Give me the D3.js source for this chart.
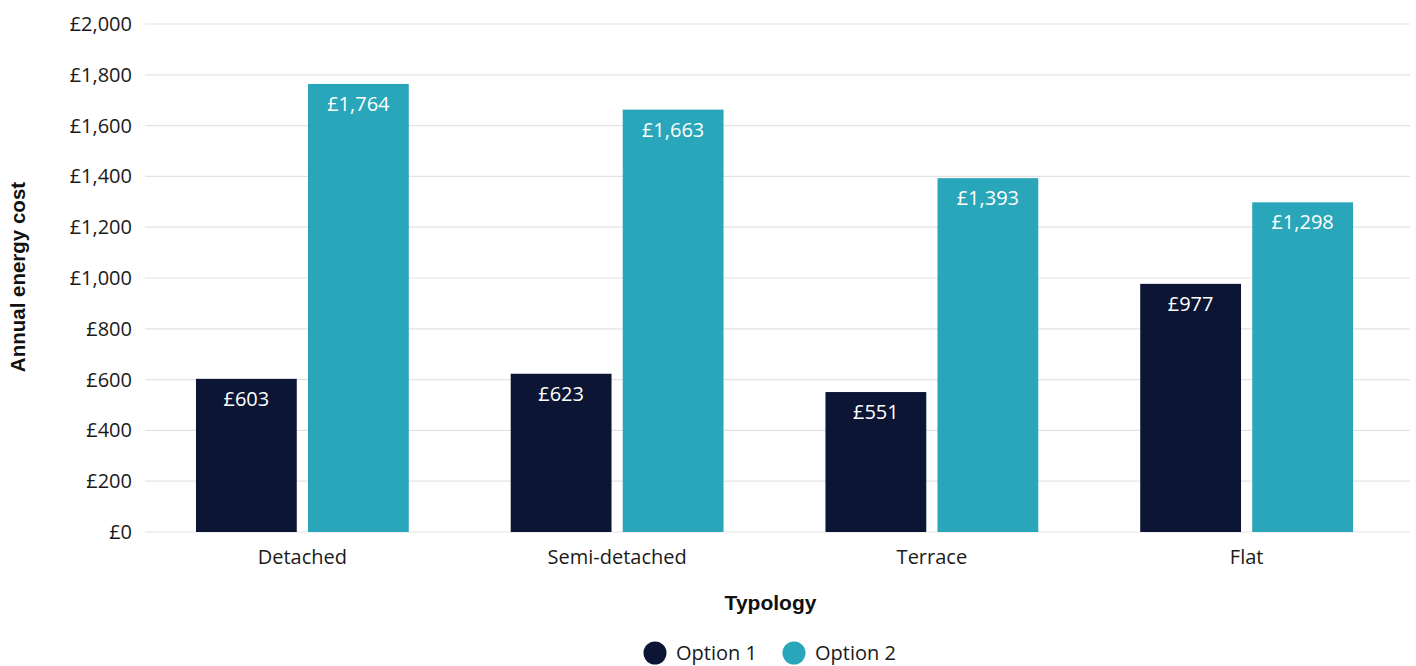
<!DOCTYPE html>
<html>
<head>
<meta charset="utf-8">
<script src="https://cdn.jsdelivr.net/npm/d3@7"></script>
<style>
  html, body { margin: 0; padding: 0; background: #ffffff; }
  svg { display: block; }
  .tick text, .val, .legend text { font-family: "Open Sans", "Noto Sans", sans-serif; }
</style>
</head>
<body>
<svg id="chart" width="1416" height="666"></svg>
<script>
// Annual energy cost by dwelling typology
const categories = ["Detached", "Semi-detached", "Terrace", "Flat"];
const seriesNames = ["Option 1", "Option 2"];
const option1 = [603, 623, 551, 977];
const option2 = [1764, 1663, 1393, 1298];
const yTicks = [0, 200, 400, 600, 800, 1000, 1200, 1400, 1600, 1800, 2000];
const colors = ["#0c1533", "#29a6ba"];

const svg = d3.select("#chart");
const margin = { left: 145, right: 12, top: 24, bottom: 134 };

const x = d3.scaleBand()
  .domain(categories)
  .range([margin.left, 1404])
  .paddingInner(0)
  .paddingOuter(0);

const x1 = d3.scaleBand()
  .domain(seriesNames)
  .range([0, x.bandwidth()])
  .paddingInner(0.1)
  .paddingOuter(0.455);

const y = d3.scaleLinear()
  .domain([0, 2000])
  .range([532, 24]);

const fmt = v => "£" + d3.format(",")(v);

// gridlines
svg.append("g")
  .selectAll("line")
  .data(yTicks)
  .join("line")
  .attr("x1", margin.left)
  .attr("x2", 1410)
  .attr("y1", d => y(d))
  .attr("y2", d => y(d))
  .attr("stroke", "#e3e3e3")
  .attr("stroke-width", 1.2);

// y axis labels
const yAxis = d3.axisLeft(y).tickValues(yTicks).tickFormat(fmt).tickSize(0).tickPadding(13);
const gy = svg.append("g").attr("transform", `translate(${margin.left},0)`).call(yAxis);
gy.select(".domain").remove();
gy.selectAll("text").attr("font-size", 20).attr("fill", "#1a1a1a");

// x axis labels
const xAxis = d3.axisBottom(x).tickSize(0).tickPadding(18);
const gx = svg.append("g").attr("transform", `translate(0,${y(0)})`).call(xAxis);
gx.select(".domain").remove();
gx.selectAll("text").attr("font-size", 20).attr("fill", "#1a1a1a");

// bars
const rows = categories.map((c, i) => ({ cat: c, values: [option1[i], option2[i]] }));
const groups = svg.append("g").selectAll("g")
  .data(rows)
  .join("g")
  .attr("transform", d => `translate(${x(d.cat)},0)`);

const bars = groups.selectAll("g")
  .data(d => d.values.map((v, k) => ({ name: seriesNames[k], v, k })))
  .join("g");

bars.append("rect")
  .attr("x", d => x1(d.name))
  .attr("width", x1.bandwidth())
  .attr("y", d => y(d.v))
  .attr("height", d => y(0) - y(d.v))
  .attr("fill", d => colors[d.k]);

bars.append("text")
  .attr("class", "val")
  .attr("x", d => x1(d.name) + x1.bandwidth() / 2)
  .attr("y", d => y(d.v) + 27)
  .attr("text-anchor", "middle")
  .attr("font-size", 20)
  .attr("fill", "#ffffff")
  .text(d => fmt(d.v));

// axis titles
svg.append("text")
  .attr("x", (margin.left + 1404) / 2 - 4)
  .attr("y", 610)
  .attr("text-anchor", "middle")
  .attr("font-family", "Liberation Sans, Arial, sans-serif")
  .attr("font-weight", "bold")
  .attr("font-size", 21)
  .attr("fill", "#111")
  .text("Typology");

svg.append("text")
  .attr("transform", "translate(25,277) rotate(-90)")
  .attr("text-anchor", "middle")
  .attr("font-family", "Liberation Sans, Arial, sans-serif")
  .attr("font-weight", "bold")
  .attr("font-size", 20.5)
  .attr("fill", "#111")
  .text("Annual energy cost");

// legend
const legend = svg.append("g").attr("class", "legend");
const legendX = [655, 794];
seriesNames.forEach((n, k) => {
  legend.append("circle")
    .attr("cx", legendX[k])
    .attr("cy", 653)
    .attr("r", 11.5)
    .attr("fill", colors[k]);
  legend.append("text")
    .attr("x", legendX[k] + 21)
    .attr("y", 660)
    .attr("font-size", 20)
    .attr("fill", "#1a1a1a")
    .text(n);
});
</script>
</body>
</html>
